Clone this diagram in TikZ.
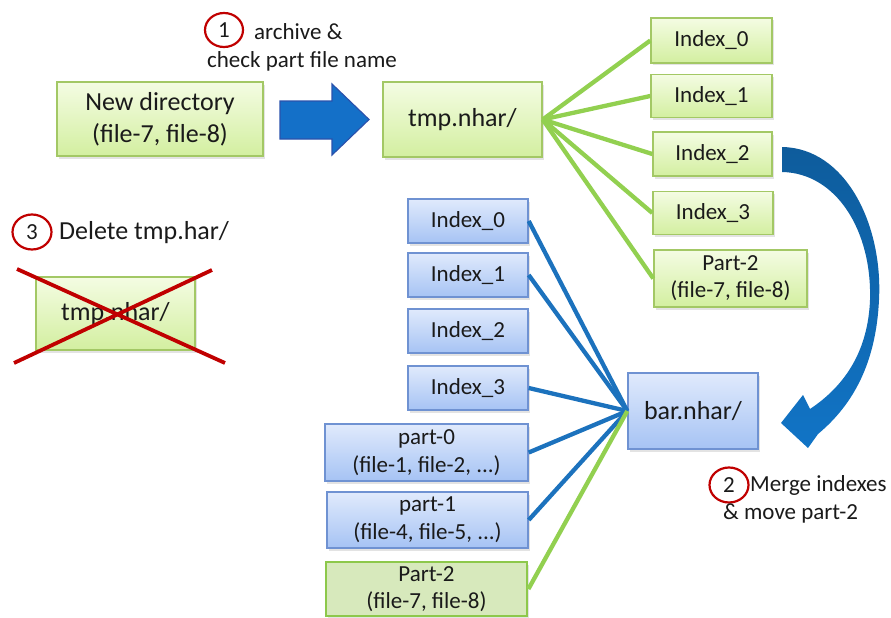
\documentclass[tikz,border=0pt]{standalone}
\usepackage{fontspec}
\setmainfont{Carlito}
\usetikzlibrary{shadows,shapes.geometric}
\definecolor{gtop}{HTML}{F4FCE3}
\definecolor{gbot}{HTML}{D3EFA0}
\definecolor{gedge}{HTML}{A3C865}
\definecolor{gline}{HTML}{92D050}
\definecolor{btop}{HTML}{E0EAFC}
\definecolor{bbot}{HTML}{A6C3F4}
\definecolor{bedge}{HTML}{6F92D2}
\definecolor{bline}{HTML}{1C72BD}
\definecolor{arrowblue}{HTML}{1470C8}
\definecolor{arrowedge}{HTML}{2A52AC}
\definecolor{curvetop}{HTML}{0E5C9C}
\definecolor{curvebot}{HTML}{1174C6}
\definecolor{mark}{HTML}{C00000}
\definecolor{txt}{HTML}{1A1A1A}
\definecolor{p2fill}{HTML}{D7E9BC}
\definecolor{p2edge}{HTML}{8DC84B}
\tikzset{
  boxbase/.style={rectangle, inner sep=0pt, align=center, text=txt,
    line width=1.4pt,
    drop shadow={opacity=0.22, shadow xshift=1.5pt, shadow yshift=-2.5pt}},
  gbox/.style={boxbase, draw=gedge, top color=gtop, bottom color=gbot},
  bbox/.style={boxbase, draw=bedge, top color=btop, bottom color=bbot},
  p2box/.style={boxbase, draw=p2edge, fill=p2fill, line width=2.8pt},
  small/.style={font=\fontsize{23}{27}\selectfont},
  large/.style={font=\fontsize{26}{32}\selectfont},
  gconn/.style={draw=gline, line width=4.3pt},
  bconn/.style={draw=bline, line width=4.3pt},
  stepmark/.style={ellipse, draw=mark, line width=2.2pt, inner sep=0pt,
    minimum width=38pt, minimum height=34pt, text=txt,
    font=\fontsize{23}{27}\selectfont},
  lbl/.style={text=txt, inner sep=0pt, font=\fontsize{23}{27}\selectfont},
  crossline/.style={draw=mark, line width=3.8pt}
}
\begin{document}
\begin{tikzpicture}[x=1pt, y=-1pt]
\useasboundingbox (0,0) rectangle (891,618);

% step 1: archive
\node[stepmark] (c1) at (224,30) {1};
\node[lbl, anchor=west] (l1a) at (254,32) {archive \&};
\node[lbl] (l1b) at (302,61) {check part file name};

\node[gbox, large, minimum width=206pt, minimum height=74pt] (newdir) at (160,119)
  {New directory\\(file-7, file-8)};

% straight block arrow
\draw[fill=arrowblue, draw=arrowedge, line width=1.2pt, line join=miter]
  (280,101) -- (332,101) -- (332,84) -- (369,119.5) -- (332,155) -- (332,139)
  -- (280,139) -- cycle;

\node[gbox, large, minimum width=159pt, minimum height=75pt] (tmp) at (462.5,119.5) {tmp.nhar/};

% contents of tmp.nhar/
\node[gbox, small, minimum width=121pt, minimum height=45pt] (gi0) at (711.5,40.5) {Index\_0};
\node[gbox, small, minimum width=121pt, minimum height=43pt] (gi1) at (711.5,96) {Index\_1};
\node[gbox, small, minimum width=119pt, minimum height=44pt] (gi2) at (712.5,154) {Index\_2};
\node[gbox, small, minimum width=120pt, minimum height=43pt] (gi3) at (713,213) {Index\_3};
\node[gbox, small, minimum width=153pt, minimum height=57pt] (gp2) at (730.5,278.5) {Part-2\\(file-7, file-8)};

\foreach \n in {gi0,gi1,gi2,gi3,gp2}
  \draw[gconn] (tmp.east) -- (\n.west);

% step 3: delete
\node[stepmark, minimum width=39pt, minimum height=35pt] (c3) at (32,232) {3};
\node[lbl, anchor=west, font=\fontsize{26}{30}\selectfont] (l3) at (59,233) {Delete tmp.har/};
\node[gbox, large, minimum width=159pt, minimum height=73pt] (old) at (115.5,313.5) {tmp.nhar/};
\draw[crossline] (17,269) -- (225,363);
\draw[crossline] (212,270) -- (14,363);

% contents of bar.nhar/
\node[bbox, small, minimum width=120pt, minimum height=44pt] (bi0) at (468,221) {Index\_0};
\node[bbox, small, minimum width=120pt, minimum height=44pt] (bi1) at (468,275) {Index\_1};
\node[bbox, small, minimum width=120pt, minimum height=44pt] (bi2) at (468,331) {Index\_2};
\node[bbox, small, minimum width=120pt, minimum height=44pt] (bi3) at (468,388) {Index\_3};
\node[bbox, font=\fontsize{23}{28}\selectfont, minimum width=203pt, minimum height=57pt] (bp0) at (426.5,452.5) {part-0\\(file-1, file-2, ...)};
\node[bbox, font=\fontsize{23}{28}\selectfont, minimum width=201pt, minimum height=56pt] (bp1) at (427.5,520) {part-1\\(file-4, file-5, ...)};
\node[p2box, small, minimum width=201pt, minimum height=54pt] (bp2) at (426.5,589) {Part-2\\(file-7, file-8)};

\node[bbox, large, minimum width=130pt, minimum height=76pt] (bar) at (693,411) {bar.nhar/};

\foreach \n in {bi0,bi1,bi3,bp0,bp1}
  \draw[bconn] (\n.east) -- (bar.west);
\draw[gconn] (bp2.east) -- (bar.west);

% curved arrow: Index_2 is moved over to bar.nhar/
\shade[top color=curvetop, bottom color=curvebot]
  (782,147) .. controls (846,148) and (883,225) .. (879,300)
  .. controls (876,362) and (854,404) .. (818,434)
  -- (808,448) -- (781,423) -- (803,395) -- (810,409)
  .. controls (846,385) and (868,350) .. (870,300)
  .. controls (872,230) and (836,173) .. (782,172) -- cycle;

% step 2: merge
\node[stepmark, minimum width=39pt, minimum height=35pt] (c2) at (729,485) {2};
\node[lbl, anchor=west] (l2a) at (750,485) {Merge indexes};
\node[lbl, anchor=west] (l2b) at (723,513) {\& move part-2};
\end{tikzpicture}
\end{document}
